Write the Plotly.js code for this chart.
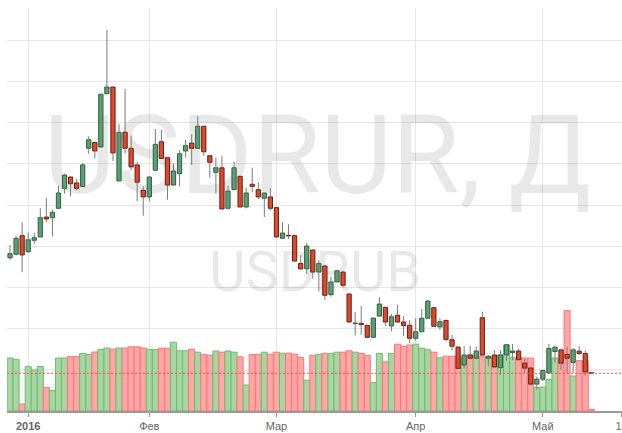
<!DOCTYPE html>
<html><head><meta charset="utf-8">
<script src="https://cdn.plot.ly/plotly-3.0.1.min.js"></script>
<style>html,body{margin:0;padding:0;background:#fff}#chart{width:622px;height:433px}</style>
</head><body><div id="chart"></div>
<script>
// USDRUB daily candles, Dec 2015 – May 2016 (one entry per trading day)
const opens = [71.80,72.01,73.14,72.17,72.86,73.06,74.27,74.23,74.80,76.01,76.70,76.34,76.13,78.44,78.80,78.52,81.75,82.16,76.46,79.41,
78.44,77.43,75.89,75.49,77.11,78.84,77.87,76.21,76.90,78.28,78.76,78.44,79.78,77.99,76.98,77.26,74.80,75.93,76.74,74.88,
76.26,75.93,75.41,75.49,74.84,72.98,73.16,73.14,71.45,71.13,72.27,70.93,71.30,69.56,70.33,70.93,69.60,67.80,67.82,67.70,
66.97,68.26,68.79,67.66,68.31,67.90,67.70,66.91,67.31,68.13,68.77,67.60,68.00,66.83,66.38,65.29,65.90,65.70,68.16,65.70,
65.90,65.13,65.90,66.05,66.14,65.41,65.11,64.13,64.43,64.81,66.11,66.21,65.93,65.44,66.13,65.99,64.82];
const highs = [72.57,73.14,73.95,73.34,73.30,74.80,75.44,74.72,76.17,76.90,76.70,76.58,77.55,79.17,78.80,81.72,85.64,82.16,79.90,82.04,
79.21,77.63,76.13,76.70,79.61,79.57,77.87,77.51,78.32,78.96,79.29,80.38,79.78,77.99,77.87,77.99,76.17,77.63,76.74,76.05,
77.26,76.38,75.73,76.01,74.84,73.95,73.83,73.14,71.95,72.71,72.27,71.66,71.30,70.65,71.01,71.01,69.60,68.51,68.87,67.70,
68.14,69.40,68.79,68.39,68.95,68.26,68.00,68.13,68.69,69.25,68.77,68.13,68.00,67.11,66.38,66.43,66.44,66.40,68.53,65.90,
66.20,66.20,66.55,66.57,66.28,65.67,65.11,64.59,64.96,66.57,66.47,66.21,66.40,66.32,66.43,66.17,64.83];
const lows = [71.66,71.97,70.92,72.09,72.65,73.06,73.95,73.10,74.80,75.69,75.53,75.89,76.13,78.11,77.83,78.52,81.75,77.67,76.46,78.11,
77.11,75.24,74.35,75.24,77.11,77.83,75.32,76.21,76.13,77.87,77.43,78.44,77.99,76.66,75.69,74.76,74.72,75.93,74.88,74.80,
75.77,75.36,74.27,74.68,73.06,72.94,72.94,71.60,71.12,70.81,70.53,69.76,69.24,69.44,70.33,70.01,67.87,67.09,67.13,66.97,
66.97,68.26,67.66,67.34,67.90,67.05,66.61,66.75,67.31,68.13,67.60,67.43,66.77,66.18,65.09,65.09,65.67,65.64,65.90,65.21,
65.15,64.68,65.55,65.59,65.61,64.82,64.13,63.80,64.32,64.81,65.44,64.99,64.84,64.79,65.90,64.65,64.76];
const closes = [72.05,72.98,71.97,72.89,73.02,74.23,74.15,74.56,75.73,76.82,76.29,76.01,77.43,78.96,78.28,81.72,82.16,78.16,79.41,78.44,
77.31,76.38,75.49,76.70,78.68,77.83,76.21,77.06,78.11,78.60,78.44,79.78,78.23,77.59,77.26,74.76,75.85,77.26,74.88,75.73,
76.13,75.49,75.73,74.80,73.06,73.30,73.12,71.60,71.12,72.51,70.93,71.46,69.52,70.33,71.01,70.13,67.90,67.84,67.74,66.97,
68.14,68.99,67.90,68.22,67.90,67.69,66.91,67.31,68.13,69.17,67.64,67.92,66.83,66.43,65.09,65.90,65.70,66.14,65.90,65.82,
65.17,65.90,66.52,66.14,65.61,65.10,64.13,64.43,64.96,66.29,66.37,65.40,65.70,66.21,65.99,64.87,64.79];
const volumes = [13.25,12.9,1.75,11.1,10.25,11.1,5.9,5.1,13.25,13.25,13.6,13.6,14.4,14.1,14.75,15.4,15.75,15.45,15.75,15.75,
16.05,16.05,15.75,15.4,15.4,15.7,15.7,17.2,15.05,15.05,15.45,14.7,14.1,13.9,15.0,14.7,15.0,14.7,13.55,6.5,
14.1,14.1,14.7,14.2,14.7,14.45,14.45,14.2,13.4,7.7,13.9,14.2,14.4,14.4,14.7,14.7,15.05,14.7,14.4,13.9,
7.1,14.4,12.3,14.4,16.7,16.2,16.5,16.7,15.7,15.3,14.7,13.3,13.7,13.7,13.7,13.2,14.0,13.3,13.75,13.5,
13.5,14.0,16.5,13.3,13.25,13.25,13.25,5.9,6.0,7.9,13.25,13.25,25.1,8.75,12.6,12.6,0.4];
// x-axis labels (month starts, as trading-day index)
const tickIdx = [3, 23, 44, 67, 88, 101];
const tickText = ['<b>2016</b>', 'Фев', 'Мар', 'Апр', 'Май', '16'];
const watermarkText = ['USDRUR, Д', 'USDRUB'];

const n = opens.length;
const idx = opens.map((_, i) => i);
const up = opens.map((o, i) => closes[i] >= o);
const bodyBase = opens.map((o, i) => Math.min(o, closes[i]));
const bodyLen = opens.map((o, i) => Math.abs(closes[i] - o));
const wx = [], wy = [];
for (let i = 0; i < n; i++) {
  const top = Math.max(opens[i], closes[i]), bot = Math.min(opens[i], closes[i]);
  wx.push(i, i, null, i, i, null);
  wy.push(highs[i], top, null, bot, lows[i], null);
}

const traces = [
  { // volume
    type: 'bar', x: idx, y: volumes, xaxis: 'x', yaxis: 'y', width: 1,
    marker: { color: up.map(u => u ? '#a7d6a4' : '#ffa6a6'),
              line: { color: up.map(u => u ? '#6cbd69' : '#ff7474'), width: 1 } },
    hoverinfo: 'skip'
  },
  { // watermark
    type: 'scatter', mode: 'text', x: [50.78, 50.4], y: [61.3, 33.6], text: watermarkText,
    textposition: 'middle center', xaxis: 'x', yaxis: 'y',
    textfont: { family: 'Roboto', size: [110, 56], color: 'rgba(0,0,0,0.09)' }, hoverinfo: 'skip'
  },
  { // candle bodies
    type: 'bar', x: idx, y: bodyLen, base: bodyBase, xaxis: 'x', yaxis: 'y2', width: 0.7,
    marker: { color: up.map(u => u ? '#5c9f74' : '#d94a2e'),
              line: { color: up.map(u => u ? '#2f5f3f' : '#6b1d12'), width: 1 } },
    hoverinfo: 'skip'
  },
  { // wicks
    type: 'scatter', mode: 'lines', x: wx, y: wy, xaxis: 'x', yaxis: 'y2',
    line: { color: '#7a7a7a', width: 1 }, connectgaps: false, hoverinfo: 'skip'
  }
];

const layout = {
  width: 622, height: 433,
  margin: { l: 7, r: 0, t: 8, b: 22, pad: 0 },
  paper_bgcolor: '#ffffff', plot_bgcolor: '#ffffff',
  showlegend: false, barmode: 'overlay',
  xaxis: {
    range: [-0.5, 101.07], tickmode: 'array', tickvals: tickIdx, ticktext: tickText,
    showgrid: true, gridcolor: '#e6e6e6', gridwidth: 1, zeroline: false,
    showline: true, linecolor: '#9a9a9a', linewidth: 2,
    ticks: 'outside', ticklen: 4, tickcolor: '#9a9a9a', tickwidth: 1,
    tickfont: { family: 'Arial, Liberation Sans, sans-serif', size: 11, color: '#666666' },
    ticklabeloverflow: 'allow', fixedrange: true
  },
  yaxis: { range: [0, 100.75], showgrid: false, zeroline: false, showticklabels: false, ticks: '', fixedrange: true },
  yaxis2: {
    overlaying: 'y', side: 'right', range: [62.5, 86.954], tick0: 62.5, dtick: 2.5,
    showgrid: true, gridcolor: '#e6e6e6', gridwidth: 1, zeroline: false,
    showticklabels: false, ticks: '', fixedrange: true
  },
  shapes: [{
    type: 'line', xref: 'paper', x0: 0, x1: 1, yref: 'y2', y0: closes[n - 1], y1: closes[n - 1],
    line: { color: '#e2574a', width: 1, dash: '2px,2px' }
  }]
};

Plotly.newPlot('chart', traces, layout, { displayModeBar: false, staticPlot: true });
</script>
</body></html>
